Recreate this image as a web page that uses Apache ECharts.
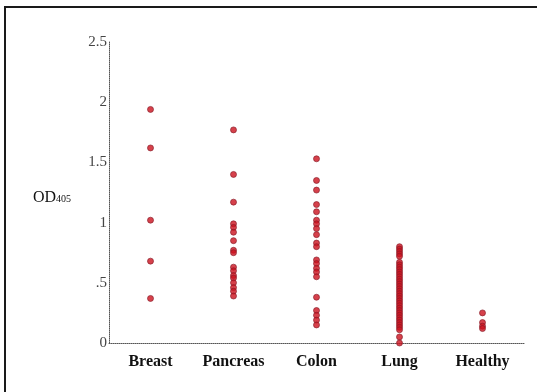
<!DOCTYPE html>
<html>
<head>
<meta charset="utf-8">
<script src="https://cdn.jsdelivr.net/npm/echarts@6/dist/echarts.min.js"></script>
<style>
html, body { margin: 0; padding: 0; background: #fff; }
#chart { width: 537px; height: 392px; }
</style>
</head>
<body>
<div id="chart"></div>
<script>
// categories on x axis
var categories = ["Breast", "Pancreas", "Colon", "Lung", "Healthy"];
// OD405 readings per group
var breast = [1.94, 1.62, 1.02, 0.68, 0.37];
var pancreas = [1.77, 1.40, 1.17, 0.99, 0.96, 0.92, 0.85, 0.77, 0.75, 0.63, 0.60, 0.56, 0.54, 0.50, 0.46, 0.43, 0.39];
var colon = [1.53, 1.35, 1.27, 1.15, 1.09, 1.02, 0.99, 0.95, 0.90, 0.83, 0.80, 0.69, 0.66, 0.62, 0.59, 0.55, 0.38, 0.27, 0.23, 0.19, 0.15];
var lung = [0.80, 0.78, 0.76, 0.74, 0.72, 0.67, 0.65, 0.63, 0.61, 0.59, 0.57, 0.55, 0.53, 0.51, 0.49, 0.47,
	0.45, 0.43, 0.41, 0.39, 0.37, 0.35, 0.33, 0.31, 0.29, 0.27, 0.25, 0.23, 0.21, 0.19, 0.17, 0.15, 0.13, 0.11, 0.05, 0.0];
var healthy = [0.25, 0.17, 0.14, 0.12];
var yTicks = { min: 0, max: 2.5, interval: 0.5 };

var groups = [breast, pancreas, colon, lung, healthy];
var points = [];
for (var i = 0; i < groups.length; i++) {
	for (var j = 0; j < groups[i].length; j++) {
		points.push([categories[i], groups[i][j]]);
	}
}

var chart = echarts.init(document.getElementById("chart"));
var option = {
	animation: false,
	backgroundColor: "#fff",
	grid: { left: 109, right: 13, top: 42, bottom: 49 },
	graphic: [{
		type: "rect",
		shape: { x: 5, y: 7, width: 545, height: 400 },
		style: { fill: "none", stroke: "#1a1a1a", lineWidth: 2 },
		z: 0
	}],
	xAxis: {
		type: "category",
		data: categories,
		boundaryGap: true,
		axisLine: { lineStyle: { color: "#555", type: "dotted", width: 1 } },
		axisTick: { show: false },
		splitLine: { show: false },
		axisLabel: {
			margin: 11,
			color: "#111",
			fontFamily: "Liberation Serif",
			fontWeight: "bold",
			fontSize: 16
		}
	},
	yAxis: {
		type: "value",
		min: yTicks.min,
		max: yTicks.max,
		interval: yTicks.interval,
		name: "{a|OD}{b|405}",
		nameLocation: "middle",
		nameRotate: 0,
		nameGap: 38,
		nameTextStyle: {
			align: "right",
			padding: [10, 0, 0, 0],
			rich: {
				a: { fontFamily: "Liberation Serif", fontSize: 16, color: "#111" },
				b: { fontFamily: "Liberation Serif", fontSize: 10, color: "#111", padding: [3, 0, 0, 0] }
			}
		},
		axisLine: { show: true, lineStyle: { color: "#555", type: "dotted", width: 1 } },
		axisTick: { show: false },
		splitLine: { show: false },
		axisLabel: {
			margin: 2,
			color: "#444",
			fontFamily: "Liberation Serif",
			fontSize: 15,
			padding: [9, 0, 0, 0],
			formatter: function (v) {
				if (v === 0) return "0";
				if (v === 0.5) return ".5";
				return String(v);
			}
		}
	},
	series: [{
		type: "scatter",
		data: points,
		symbol: "circle",
		symbolSize: 6,
		itemStyle: {
			color: "#cc121e",
			borderColor: "#841a28",
			borderWidth: 0.8
		}
	}]
};
chart.setOption(option);
</script>
</body>
</html>
